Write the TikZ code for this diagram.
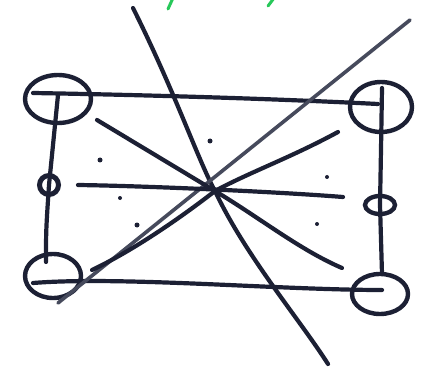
\documentclass[tikz,border=0pt]{standalone}
\usepackage{tikz}
\usepackage{xcolor}
\usetikzlibrary{shapes.geometric}
\definecolor{ink}{RGB}{28,32,52}
\definecolor{lead}{RGB}{70,74,92}
\definecolor{marker}{RGB}{40,200,90}

\begin{document}
\begin{tikzpicture}[
  x=1pt, y=-1pt,
  ring/.style={draw=ink, ellipse, line width=4.4pt, inner sep=0pt},
  stroke/.style={draw=ink, line width=4.2pt, line cap=round},
  pencil/.style={draw=lead, line width=3.6pt, line cap=round},
  dot/.style={circle, fill=ink, inner sep=0pt, minimum size=5pt}
]
\useasboundingbox[fill=white] (0,0) rectangle (430,371);

\node[ring, minimum width=66pt, minimum height=48pt] (tl) at (58,99) {};
\node[ring, minimum width=62pt, minimum height=50pt] (tr) at (381,107) {};
\node[ring, line width=5pt, minimum width=19pt, minimum height=19pt] (ml) at (49,185) {};
\node[ring, minimum width=30pt, minimum height=18pt] (mr) at (380,205) {};
\node[ring, minimum width=56pt, minimum height=44pt] (bl) at (53,276) {};
\node[ring, minimum width=56pt, minimum height=40pt] (br) at (380,294) {};

\coordinate (hub) at (215,191);
\coordinate (tlA) at (33,93);
\coordinate (tlB) at (58,95);
\coordinate (trA) at (378,104);
\coordinate (trB) at (382,88);
\coordinate (blA) at (33,283);
\coordinate (blB) at (46,262);
\coordinate (brA) at (382,290);
\coordinate (brB) at (382,274);
\coordinate (topA) at (133,8);
\coordinate (botA) at (328,364);
\coordinate (topB) at (410,20);
\coordinate (botB) at (58,303);
\coordinate (nw) at (97,120);
\coordinate (se) at (342,268);
\coordinate (w) at (78,185);
\coordinate (e) at (343,197);
\coordinate (ne) at (338,132);
\coordinate (sw) at (92,270);

% frame
\draw[stroke] (tlA) .. controls (150,95) and (280,99) .. (trA);
\draw[stroke] (blA) .. controls (120,276) and (280,290) .. (brA);
\draw[stroke] (tlB) .. controls (53,140) .. (ml.center) .. controls (46,230) .. (blB);
\draw[stroke] (trB) .. controls (381,150) .. (mr.center) .. controls (381,240) .. (brB);

% crossing strokes
\draw[stroke] (topA) .. controls (175,92) and (198,160) .. (hub) .. controls (245,255) and (300,320) .. (botA);
\draw[pencil] (topB) -- (botB);
\draw[stroke] (nw) -- (hub) .. controls (260,218) and (300,250) .. (se);
\draw[stroke] (w) .. controls (150,186) and (280,192) .. (e);
\draw[stroke] (ne) .. controls (290,158) and (250,172) .. (hub) .. controls (175,222) and (130,252) .. (sw);

% dots
\node[dot] (d1) at (100,160) {};
\node[dot] (d2) at (210,141) {};
\node[dot, minimum size=4pt] (d3) at (120,198) {};
\node[dot] (d4) at (137,225) {};
\node[dot, minimum size=4pt] (d5) at (327,177) {};
\node[dot, minimum size=4pt] (d6) at (317,224) {};

% green marks at the top edge
\draw[draw=marker, line width=3pt, line cap=round] (173,-2) -- (168,9);
\draw[draw=marker, line width=3pt, line cap=round] (274,-2) -- (268,6);
\end{tikzpicture}
\end{document}
